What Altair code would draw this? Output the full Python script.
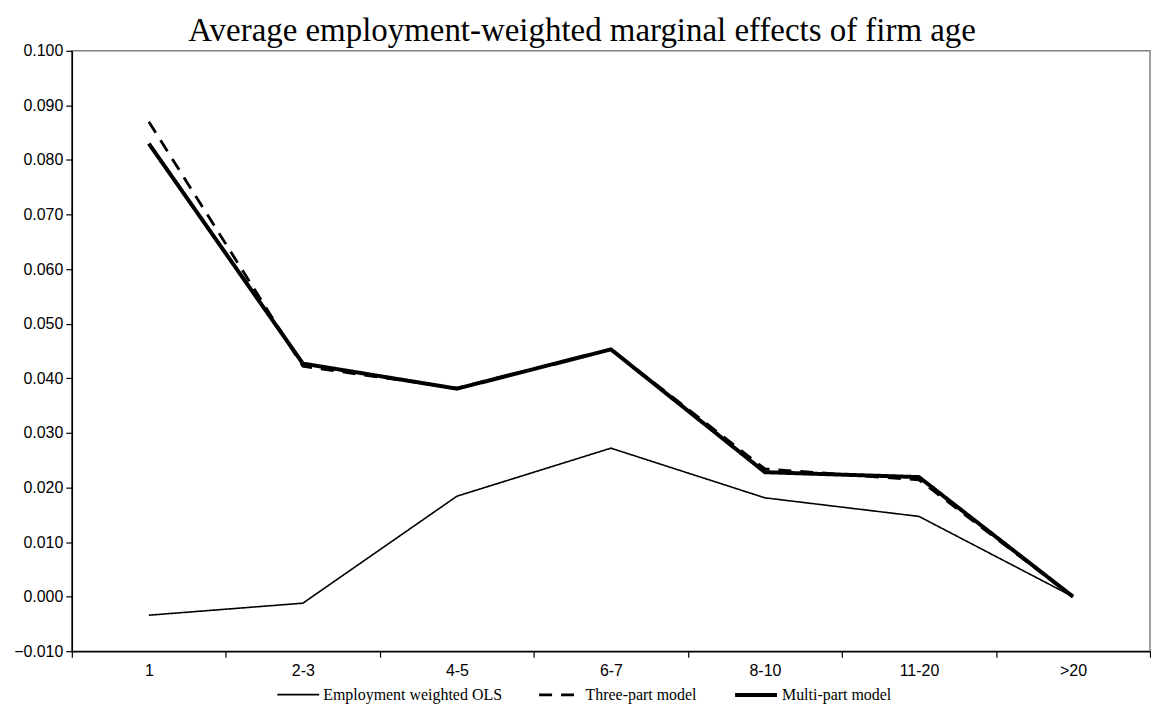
import altair as alt
import pandas as pd

categories = ["1", "2-3", "4-5", "6-7", "8-10", "11-20", ">20"]
ols = [-0.0034, -0.0012, 0.0184, 0.0272, 0.0181, 0.0147, 0.0000]
three_part = [0.0870, 0.0422, 0.0382, 0.0453, 0.0234, 0.0214, 0.0000]
multi_part = [0.0830, 0.0427, 0.0381, 0.0453, 0.0228, 0.0219, 0.0000]
series_names = ["Employment weighted OLS", "Three-part model", "Multi-part model"]
y_ticks = [-0.01, 0.0, 0.01, 0.02, 0.03, 0.04, 0.05, 0.06, 0.07, 0.08, 0.09, 0.1]

rows = []
for name, vals in zip(series_names, [ols, three_part, multi_part]):
    for i, (c, v) in enumerate(zip(categories, vals)):
        rows.append({"age": c, "value": v, "series": name, "order": i})
df = pd.DataFrame(rows)

chart = alt.Chart(df).mark_line(strokeCap="butt", strokeJoin="miter").encode(
    x=alt.X("age:N", sort=categories, title=None,
            scale=alt.Scale(paddingInner=0, paddingOuter=0),
            axis=alt.Axis(labelAngle=0, tickBand="extent", labelFont="Liberation Sans",
                          labelFontSize=16, labelColor="black", domainColor="black",
                          tickColor="black", tickSize=6, labelPadding=5, domainWidth=1.5,
                          tickWidth=1.2)),
    y=alt.Y("value:Q", title=None,
            scale=alt.Scale(domain=[-0.01, 0.1], nice=False, zero=False),
            axis=alt.Axis(values=y_ticks, format=".3f", grid=False, labelFont="Liberation Sans",
                          labelFontSize=16, labelColor="black", domainColor="black",
                          tickColor="black", tickSize=6, labelPadding=3, domainWidth=1.5,
                          tickWidth=1.2)),
    color=alt.Color("series:N", sort=series_names,
                    scale=alt.Scale(domain=series_names, range=["black", "black", "black"]),
                    legend=alt.Legend(title=None, orient="none", direction="horizontal",
                                      legendX=205, legendY=623,
                                      symbolType="stroke", symbolSize=1764,
                                      labelFont="Liberation Serif", labelFontSize=16,
                                      labelLimit=400,
                                      labelColor="black", columnPadding=30, labelOffset=3)),
    strokeDash=alt.StrokeDash("series:N", sort=series_names,
                              scale=alt.Scale(domain=series_names, range=[[1, 0], [13, 9], [1, 0]]),
                              legend=alt.Legend(title=None)),
    strokeWidth=alt.StrokeWidth("series:N", sort=series_names,
                                scale=alt.Scale(domain=series_names, range=[1.6, 4, 4]),
                                legend=alt.Legend(title=None)),
    order="order:Q",
).properties(
    width=1081, height=602,
    title=alt.TitleParams("Average employment-weighted marginal effects of firm age",
                          font="Liberation Serif", fontSize=33, fontWeight="normal",
                          color="black", anchor="middle", frame="bounds", offset=-5),
    padding={"left": 5, "top": 6, "right": 0, "bottom": 0},
).configure_view(stroke="#808080", strokeWidth=1.5).configure_legend(
    symbolStrokeColor="black"
)

chart.save("out.html", embed_options={"renderer": "svg", "actions": False})
